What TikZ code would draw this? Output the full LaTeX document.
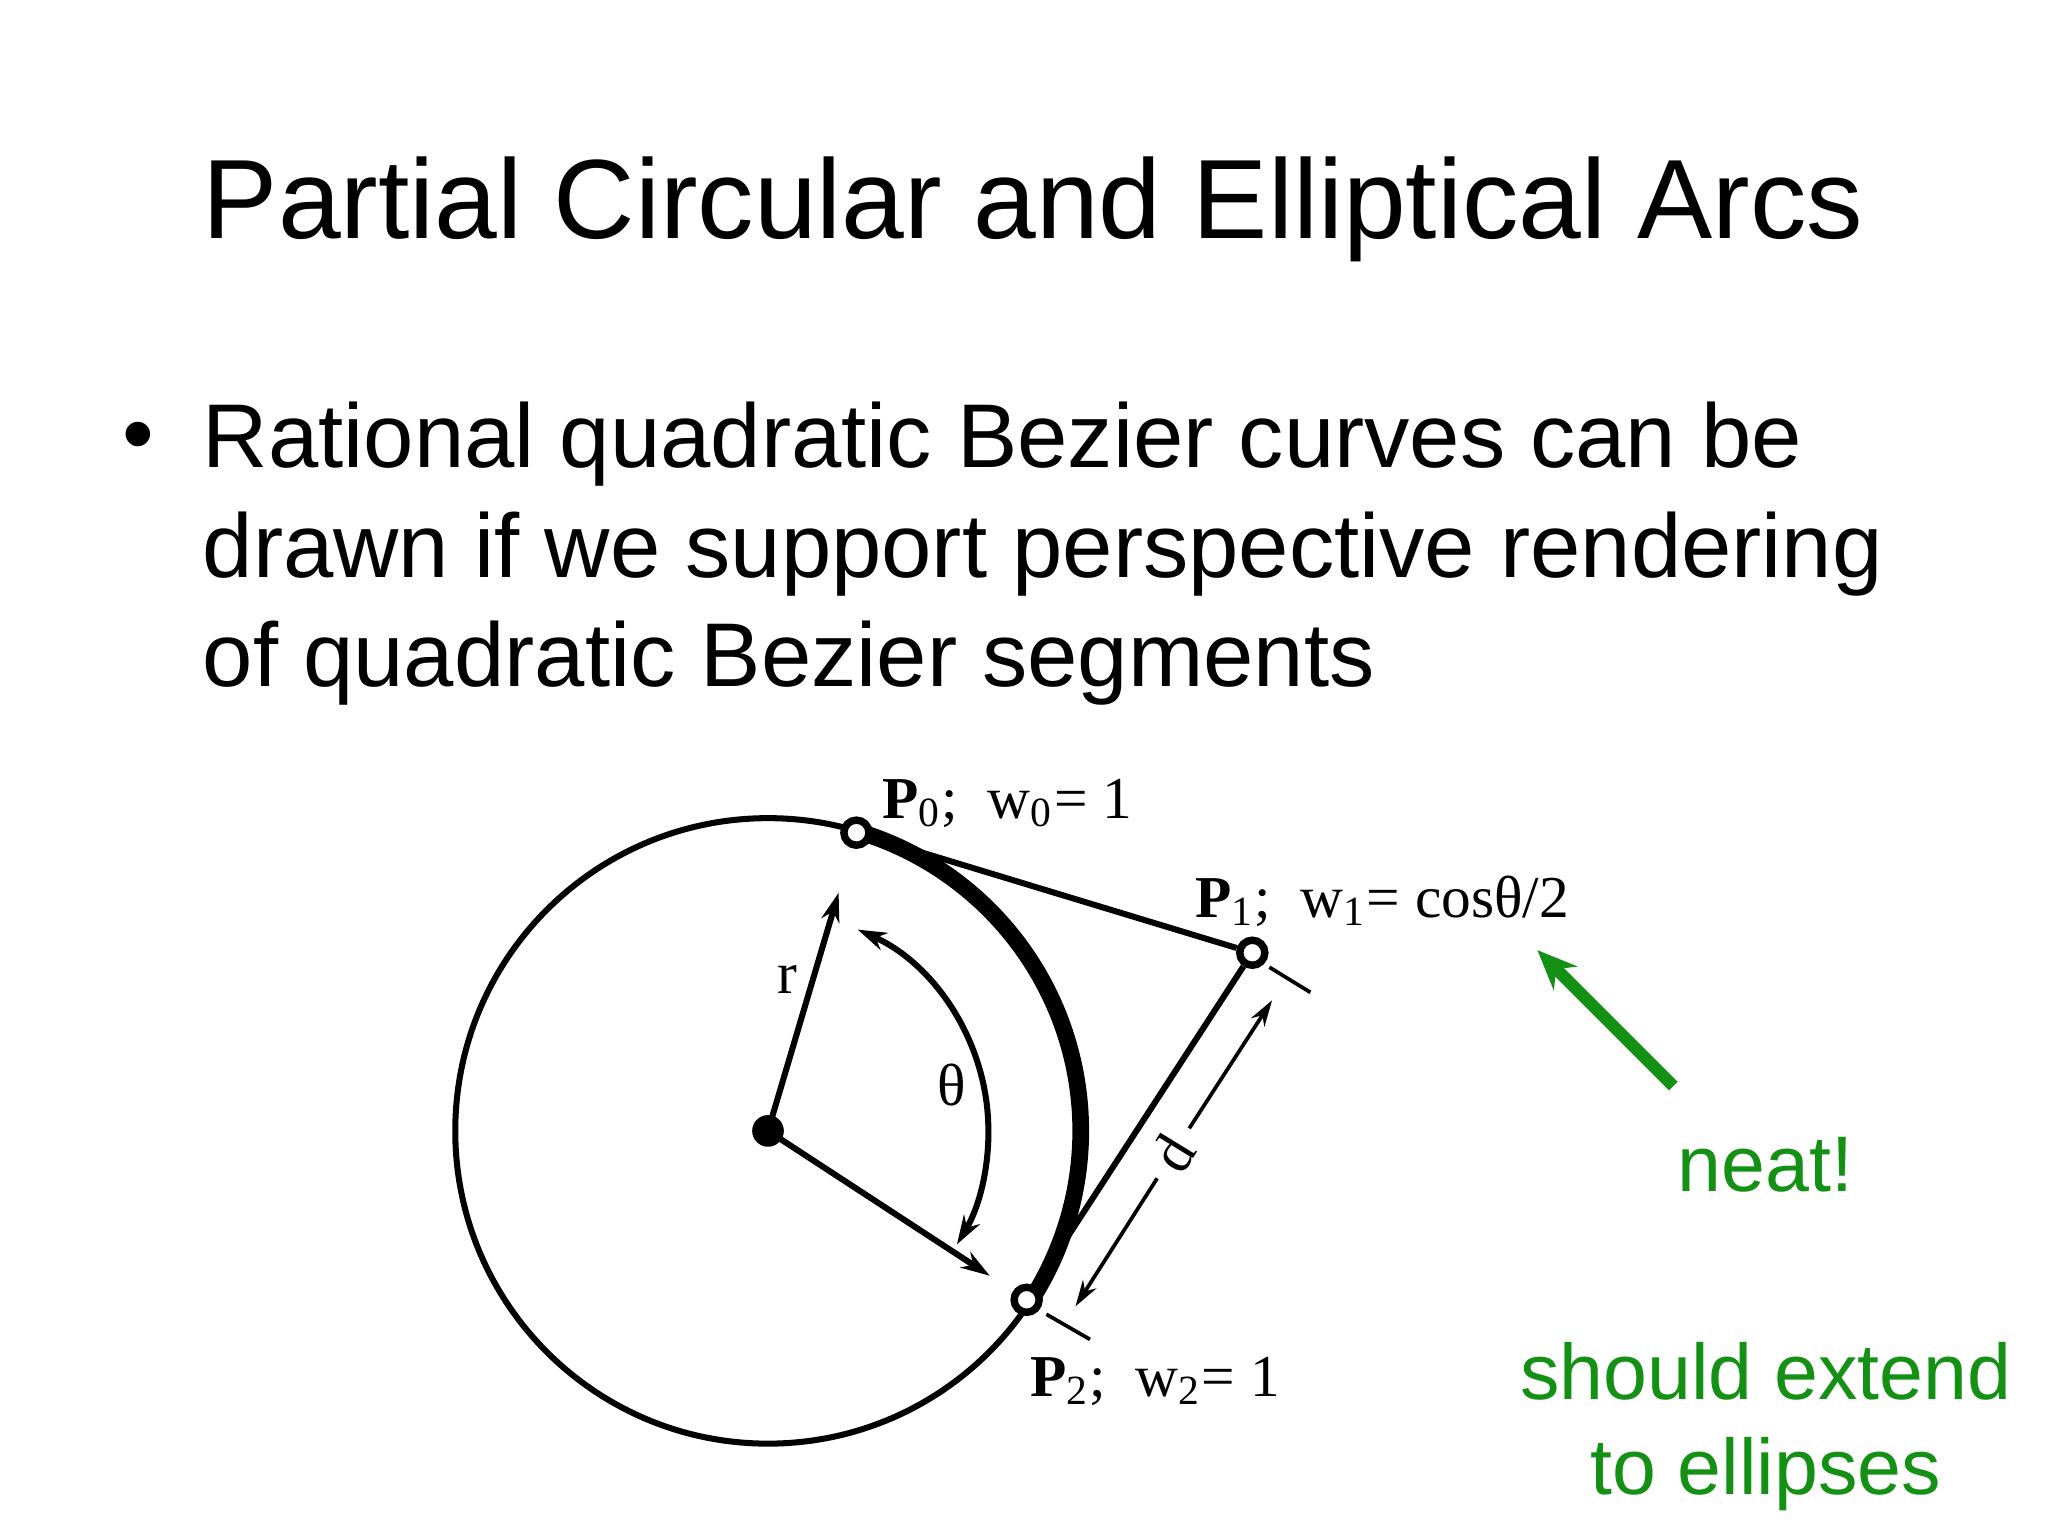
\documentclass[tikz,border=0pt]{standalone}
\usepackage{fontspec}
\setmainfont{Liberation Sans}
\newfontfamily\tms{Liberation Serif}
\usetikzlibrary{arrows.meta}
\definecolor{grn}{RGB}{20,145,20}
\begin{document}
\begin{tikzpicture}[x=0.01cm,y=-0.01cm,
  pt/.style={circle,draw,line width=1.6pt,fill=white,inner sep=0pt,minimum size=0.19cm},
  lab/.style={font=\tms\fontsize{12.8}{15}\selectfont,inner sep=0pt},
  ln/.style={line width=1.3pt},
  arr/.style={ln,-{Stealth[length=0.22cm,width=0.14cm]}}]
\useasboundingbox (0,0) rectangle (1552,1164);
\node[font=\fontsize{24.3}{30}\selectfont,anchor=base] (title) at (783,181) {Partial Circular and Elliptical Arcs};
\node[font=\fontsize{19.5}{24}\selectfont,anchor=base] (bul) at (105,352) {\textbullet};
\node[font=\fontsize{19.5}{23.6}\selectfont,anchor=north west,align=left,inner sep=0pt] (txt) at (153,304)
 {Rational quadratic Bezier curves can be\\drawn if we support perspective rendering\\of quadratic Bezier segments};
% diagram
\coordinate (O) at (582,857);
\draw[ln] (O) circle[radius=237];
\draw[line width=3.6pt] (O) ++(-73.5:237) arc[start angle=-73.5,end angle=33,radius=237];
\node[pt] (P0) at (649,631) {};
\node[pt] (P1) at (949,722) {};
\node[pt] (P2) at (778,985) {};
\fill (O) circle[radius=12];
\draw[arr,shorten >=10pt] (O) -- (P0);
\draw[arr,shorten >=6pt] (O) -- (P2);
\draw[ln] (P0) -- (P1);
\draw[ln] (P1) -- (P2);
\draw[ln,{Stealth[length=0.22cm,width=0.14cm]}-{Stealth[length=0.22cm,width=0.14cm]}] (O) ++(-66:167) arc[start angle=-66,end angle=31,radius=167];
\node[lab] (r) at (597,742) {r};
\node[lab] (th) at (721,822) {θ};
% dimension
\draw[line width=0.8pt] (962,733) -- (993,752);
\draw[line width=0.8pt] (793,996) -- (826,1015);
\coordinate (d1) at (964,758);
\coordinate (d2) at (815,990);
\node[lab,rotate=58.5,fill=white,inner sep=3pt] (d) at (889,874) {d};
\draw[line width=0.8pt,-{Stealth[length=0.2cm,width=0.12cm]}] (d) -- (d1);
\draw[line width=0.8pt,-{Stealth[length=0.2cm,width=0.12cm]}] (d) -- (d2);
\node[lab,anchor=base west] (l0) at (668,620) {\textbf{P}\textsubscript{0};\ \ w\textsubscript{0}= 1};
\node[lab,anchor=base west] (l1) at (905,695) {\textbf{P}\textsubscript{1};\ \ w\textsubscript{1}= cosθ/2};
\node[lab,anchor=base west] (l2) at (780,1058) {\textbf{P}\textsubscript{2};\ \ w\textsubscript{2}= 1};
% green
\node[text=grn,font=\fontsize{17}{21}\selectfont,anchor=base] (neat) at (1338,903) {neat!};
\node[text=grn,font=\fontsize{17}{20.5}\selectfont,align=center,anchor=north] (ext) at (1338,1005) {should extend\\to ellipses};
\coordinate (ga) at (1268,823);
\draw[grn,line width=2.6pt,-{Stealth[length=0.3cm,width=0.25cm]}] (ga) -- (1165,720);
\end{tikzpicture}
\end{document}
